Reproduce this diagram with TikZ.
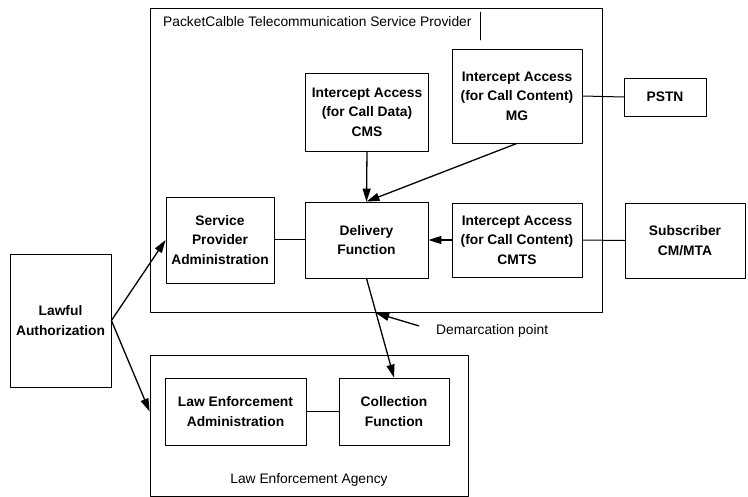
\documentclass[tikz,border=0pt]{standalone}
\usepackage{fontspec}
\setmainfont{Liberation Sans}
\usetikzlibrary{arrows.meta,calc}

\begin{document}
\begin{tikzpicture}[line cap=round, line join=round, x=1pt, y=-1pt,
    frame/.style={draw, line width=0.8pt, inner sep=0pt},
    unit/.style={draw, line width=0.8pt, inner sep=0pt, align=center,
        font=\fontsize{13.8}{19.5}\selectfont\bfseries},
    plain/.style={inner sep=0pt, font=\fontsize{13.8}{16}\selectfont},
    arr/.style={line width=1.3pt, -{Triangle[length=13pt,width=8pt]}},
    link/.style={line width=1pt}]

        \useasboundingbox (0,0) rectangle (748,497);

        % the two organisations
        \node[frame, minimum width=452pt, minimum height=304pt] (provider) at (376,160) {};
        \node[frame, minimum width=318pt, minimum height=141pt] (agency) at (309,425.5) {};
        \node[plain, anchor=west] (title) at (163,22) {PacketCalble Telecommunication Service Provider};
        \draw[line width=0.6pt] (480,12) -- (480,40);
        \node[plain] (agencylbl) at (309,480) {Law Enforcement Agency};

        % boxes
        \node[unit, minimum width=123pt, minimum height=78pt] (cms) at (367,112) {Intercept Access\\(for Call Data)\\CMS};
        \node[unit, minimum width=130pt, minimum height=94pt] (mg) at (517,96) {Intercept Access\\(for Call Content)\\MG};
        \node[unit, minimum width=82pt, minimum height=38pt] (pstn) at (665,97) {PSTN};
        \node[unit, minimum width=108pt, minimum height=86pt] (spadm) at (220,240) {Service\\Provider\\Administration};
        \node[unit, minimum width=123pt, minimum height=76pt] (delivery) at (366.5,240) {Delivery\\Function};
        \node[unit, minimum width=130pt, minimum height=74pt] (cmts) at (517,240) {Intercept Access\\(for Call Content)\\CMTS};
        \node[unit, minimum width=120pt, minimum height=75pt] (subscriber) at (685,240.5) {Subscriber\\CM/MTA};
        \node[unit, minimum width=101pt, minimum height=133pt] (lawful) at (60.5,320.5) {Lawful\\Authorization};
        \node[unit, minimum width=141pt, minimum height=67pt] (leadm) at (235.5,411.5) {Law Enforcement\\Administration};
        \node[unit, minimum width=110pt, minimum height=67pt] (collection) at (394,411.5) {Collection\\Function};

        % plain links
        \draw[link] (mg.east) -- (pstn.west);
        \draw[link] (spadm.east) -- (delivery.west);
        \draw[link] (cmts.east) -- (subscriber.west);
        \draw[link] (leadm.east) -- (collection.west);

        % arrows
        \draw[arr] (cms.south) -- (delivery.north);
        \draw[arr] (mg.south) -- (delivery.north);
        \draw[arr] (cmts.west) -- (delivery.east);
        \draw[arr] (delivery.south) -- (collection.north);
        \draw[arr] (lawful.east) -- (spadm.west);
        \draw[arr] (lawful.east) -- (agency.west |- leadm);

        % demarcation
        \coordinate (demarc) at ($(delivery.south)!0.35!(collection.north)$);
        \node[plain, anchor=west] (demlbl) at (436,331) {Demarcation point};
        \draw[arr, shorten <=18pt] (demlbl.west) -- (demarc);
        
    \end{tikzpicture}
\end{document}
